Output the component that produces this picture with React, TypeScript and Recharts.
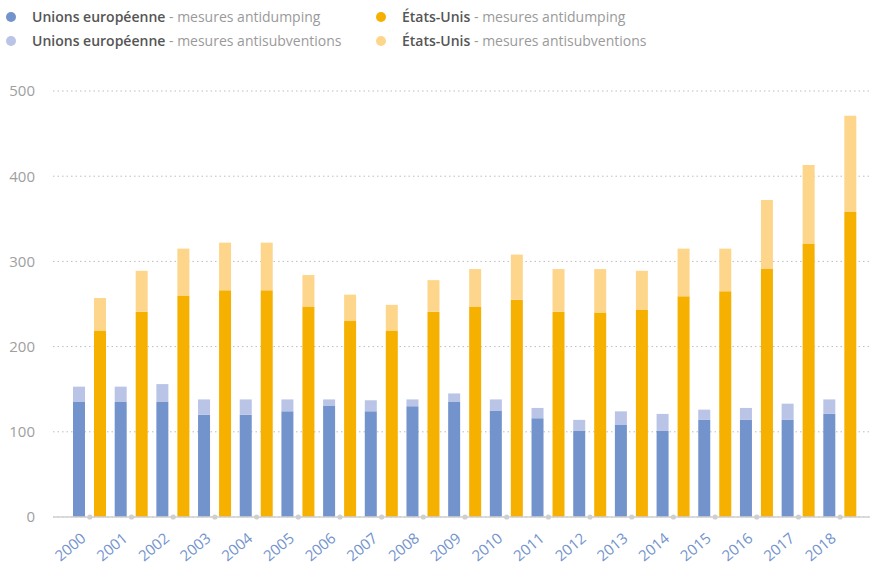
import React from "react";
import { BarChart, Bar, XAxis, YAxis, CartesianGrid } from "recharts";

const years = ["2000","2001","2002","2003","2004","2005","2006","2007","2008","2009","2010","2011","2012","2013","2014","2015","2016","2017","2018"];
const euAntidumping = [135,135,135,120,120,124,131,124,130,135,125,116,101,108,101,114,114,114,121];
const euAntisubvention = [18,18,21,18,18,14,7,13,8,10,13,12,13,16,20,12,14,19,17];
const usAntidumping = [219,241,260,266,266,247,230,219,241,247,255,241,240,243,259,265,291,321,358];
const usAntisubvention = [38,48,55,56,56,37,31,30,37,44,53,50,51,46,56,50,81,92,113];
const yTicks = [0, 100, 200, 300, 400, 500];

const data = years.map((y, i) => ({
  year: y,
  euAD: euAntidumping[i],
  euAS: euAntisubvention[i],
  usAD: usAntidumping[i],
  usAS: usAntisubvention[i],
}));

const C_EU_AD = "#7393cc";
const C_EU_AS = "#b9c4e6";
const C_US_AD = "#f6b000";
const C_US_AS = "#fdd68b";

const FONT = "'Open Sans', 'Noto Sans', sans-serif";

const XTick = (props: any) => {
  const { x, y, payload } = props;
  return (
    <g>
      <circle cx={x} cy={y - 8} r={2.6} fill="#cfcfcf" />
      <text
        x={x - 3}
        y={y + 15}
        textAnchor="end"
        transform={`rotate(-40, ${x - 3}, ${y + 15})`}
        fill="#7393cc"
        fontSize={15}
        fontFamily={FONT}
      >
        {payload.value}
      </text>
    </g>
  );
};

const LegendItem = ({ color, bold, rest, left, top }: any) => (
  <div style={{ position: "absolute", left, top, display: "flex", alignItems: "center", fontFamily: FONT, fontSize: 14, whiteSpace: "nowrap" }}>
    <span style={{ width: 10, height: 10, borderRadius: 5, background: color, display: "inline-block", marginRight: 16 }} />
    <span style={{ fontWeight: 600, color: "#555" }}>{bold}</span>
    <span style={{ color: "#9a9a9a" }}>&nbsp;- {rest}</span>
  </div>
);

export default function App() {
  return (
    <div style={{ position: "absolute", left: 0, top: 0, width: 874, height: 566, background: "#fff" }}>
      <LegendItem color={C_EU_AD} bold="Unions européenne" rest="mesures antidumping" left={6} top={7} />
      <LegendItem color={C_EU_AS} bold="Unions européenne" rest="mesures antisubventions" left={6} top={31} />
      <LegendItem color={C_US_AD} bold="États-Unis" rest="mesures antidumping" left={376} top={7} />
      <LegendItem color={C_US_AS} bold="États-Unis" rest="mesures antisubventions" left={376} top={31} />
      <div style={{ position: "absolute", left: 0, top: 0 }}>
        <BarChart
          width={874}
          height={566}
          data={data}
          margin={{ top: 91, right: 4, bottom: 0, left: 0 }}
          barSize={12}
          barGap={9}
        >
          <CartesianGrid vertical={false} stroke="#bdbdbd" strokeDasharray="1.5 3" />
          <XAxis
            dataKey="year"
            height={49}
            interval={0}
            padding={{ left: 16, right: 9 }}
            axisLine={{ stroke: "#d0d0d0", strokeWidth: 1.5 }}
            tickLine={false}
            tick={<XTick />}
          />
          <YAxis
            width={53}
            domain={[0, 500]}
            ticks={yTicks}
            axisLine={false}
            tickLine={false}
            tick={{ fill: "#a0a0a0", fontSize: 15, fontFamily: FONT, dx: -10 }}
          />
          <Bar dataKey="euAD" stackId="eu" fill={C_EU_AD} isAnimationActive={false} />
          <Bar dataKey="euAS" stackId="eu" fill={C_EU_AS} isAnimationActive={false} />
          <Bar dataKey="usAD" stackId="us" fill={C_US_AD} isAnimationActive={false} />
          <Bar dataKey="usAS" stackId="us" fill={C_US_AS} isAnimationActive={false} />
        </BarChart>
      </div>
    </div>
  );
}
